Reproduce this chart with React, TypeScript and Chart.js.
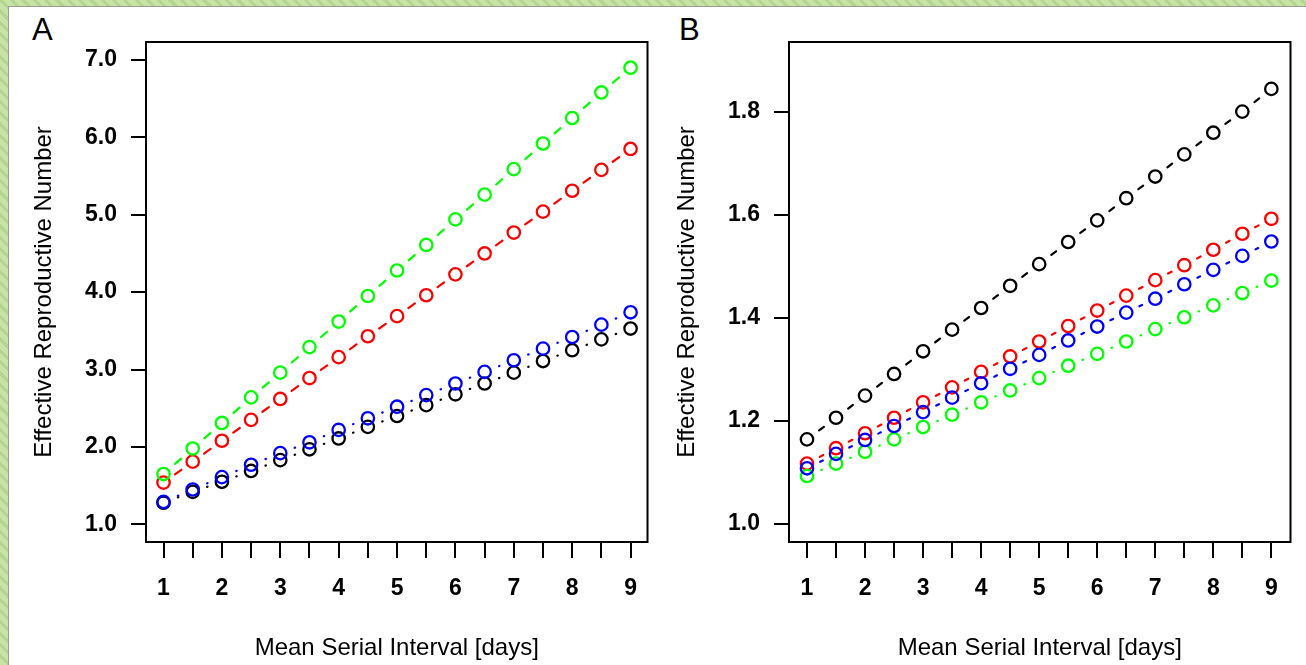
import React, { useEffect, useRef } from 'react';
import { Chart, registerables } from 'chart.js';

Chart.register(...registerables);

// ---------------- data ----------------
const serialInterval = [1, 1.5, 2, 2.5, 3, 3.5, 4, 4.5, 5, 5.5, 6, 6.5, 7, 7.5, 8, 8.5, 9];
const xTickLabels = ['1', '2', '3', '4', '5', '6', '7', '8', '9'];

// Panel A
const panelA_green = [1.65, 1.98, 2.31, 2.64, 2.96, 3.29, 3.62, 3.95, 4.28, 4.61, 4.94, 5.26, 5.59, 5.92, 6.25, 6.58, 6.90];
const panelA_red = [1.54, 1.81, 2.08, 2.35, 2.62, 2.89, 3.16, 3.43, 3.69, 3.96, 4.23, 4.50, 4.77, 5.04, 5.31, 5.58, 5.85];
const panelA_blue = [1.29, 1.45, 1.61, 1.77, 1.92, 2.06, 2.22, 2.37, 2.52, 2.67, 2.82, 2.97, 3.12, 3.27, 3.42, 3.58, 3.74];
const panelA_black = [1.28, 1.42, 1.55, 1.69, 1.83, 1.97, 2.11, 2.26, 2.40, 2.54, 2.68, 2.82, 2.96, 3.11, 3.25, 3.39, 3.53];
const panelA_yTicks = [1, 2, 3, 4, 5, 6, 7];

// Panel B
const panelB_black = [1.164, 1.206, 1.249, 1.291, 1.335, 1.377, 1.419, 1.462, 1.504, 1.547, 1.589, 1.632, 1.674, 1.717, 1.759, 1.800, 1.844];
const panelB_red = [1.117, 1.147, 1.176, 1.206, 1.236, 1.265, 1.295, 1.325, 1.354, 1.384, 1.414, 1.443, 1.473, 1.502, 1.532, 1.563, 1.592];
const panelB_blue = [1.108, 1.136, 1.163, 1.190, 1.217, 1.245, 1.273, 1.301, 1.328, 1.356, 1.383, 1.410, 1.437, 1.465, 1.493, 1.520, 1.548];
const panelB_green = [1.093, 1.117, 1.140, 1.164, 1.188, 1.212, 1.236, 1.259, 1.283, 1.307, 1.330, 1.354, 1.378, 1.401, 1.424, 1.448, 1.472];
const panelB_yTicks = [1.0, 1.2, 1.4, 1.6, 1.8];

const xTitle = 'Mean Serial Interval [days]';
const yTitle = 'Effective Reproductive Number';

// ---------------- styling ----------------
const FONT = '"Liberation Sans", Arial, Helvetica, sans-serif';

type Series = { name: string; values: number[]; color: string; dashLen: number };

const seriesA: Series[] = [
  { name: 'blue', values: panelA_blue, color: '#0000ff', dashLen: 0.5 },
  { name: 'green', values: panelA_green, color: '#00ff00', dashLen: 8 },
  { name: 'red', values: panelA_red, color: '#ff0000', dashLen: 8 },
  { name: 'black', values: panelA_black, color: '#000000', dashLen: 0.5 },
];

const seriesB: Series[] = [
  { name: 'blue', values: panelB_blue, color: '#0000ff', dashLen: 3 },
  { name: 'green', values: panelB_green, color: '#00ff00', dashLen: 0.5 },
  { name: 'red', values: panelB_red, color: '#ff0000', dashLen: 4 },
  { name: 'black', values: panelB_black, color: '#000000', dashLen: 6 },
];

const segLen = (ctx: any) => Math.hypot(ctx.p1.x - ctx.p0.x, ctx.p1.y - ctx.p0.y);

const boxPlugin = {
  id: 'rbox',
  afterDatasetsDraw(chart: any) {
    const { ctx, chartArea } = chart;
    ctx.save();
    ctx.strokeStyle = '#000';
    ctx.lineWidth = 2;
    ctx.strokeRect(chartArea.left, chartArea.top, chartArea.right - chartArea.left, chartArea.bottom - chartArea.top);
    ctx.restore();
  },
};

function makeConfig(
  series: Series[],
  xMin: number,
  xMax: number,
  yMin: number,
  yMax: number,
  yTicks: number[]
): any {
  return {
    type: 'line',
    data: {
      datasets: series.map((s) => ({
        label: s.name,
        data: s.values.map((v, i) => ({ x: serialInterval[i], y: v })),
        borderColor: s.color,
        backgroundColor: 'rgba(0,0,0,0)',
        borderWidth: 2.2,
        borderCapStyle: 'round',
        pointStyle: 'circle',
        pointRadius: 6.2,
        pointHoverRadius: 6.2,
        pointBorderWidth: 2.3,
        pointBorderColor: s.color,
        pointBackgroundColor: 'rgba(0,0,0,0)',
        fill: false,
        tension: 0,
        segment: {
          borderDash: (ctx: any) => {
            const L = segLen(ctx);
            return [s.dashLen, Math.max(L - s.dashLen, 0.1)];
          },
          borderDashOffset: (ctx: any) => -(segLen(ctx) - s.dashLen) / 2,
        },
      })),
    },
    options: {
      animation: false,
      responsive: false,
      events: [],
      layout: { padding: { left: 30, top: 42, right: 4, bottom: 2 } },
      plugins: {
        legend: { display: false },
        tooltip: { enabled: false },
        title: { display: false },
      },
      scales: {
        x: {
          type: 'linear',
          position: 'bottom',
          min: xMin,
          max: xMax,
          afterBuildTicks: (scale: any) => {
            scale.ticks = serialInterval.map((v) => ({ value: v }));
          },
          afterFit: (scale: any) => {
            scale.height = 121;
            scale.paddingLeft = 0;
            scale.paddingRight = 0;
          },
          grid: {
            display: true,
            drawOnChartArea: false,
            drawTicks: true,
            tickLength: 16,
            color: '#000',
            tickColor: '#000',
            lineWidth: 2,
            tickWidth: 2,
          },
          border: { display: false },
          ticks: {
            autoSkip: false,
            maxRotation: 0,
            minRotation: 0,
            padding: 17,
            color: '#000',
            font: { family: FONT, size: 23, weight: 'bold' },
            callback: (v: number) => {
              const idx = xTickLabels.indexOf(String(v));
              return Number.isInteger(v) && idx >= 0 ? xTickLabels[idx] : '';
            },
          },
          title: {
            display: true,
            text: xTitle,
            color: '#000',
            font: { family: FONT, size: 24 },
            padding: 0,
          },
        },
        y: {
          type: 'linear',
          position: 'left',
          min: yMin,
          max: yMax,
          afterBuildTicks: (scale: any) => {
            scale.ticks = yTicks.map((v) => ({ value: v }));
          },
          afterFit: (scale: any) => {
            scale.width = 116;
            scale.paddingTop = 0;
            scale.paddingBottom = 0;
          },
          grid: {
            display: true,
            drawOnChartArea: false,
            drawTicks: true,
            tickLength: 15,
            color: '#000',
            tickColor: '#000',
            lineWidth: 2,
            tickWidth: 2,
          },
          border: { display: false },
          ticks: {
            autoSkip: false,
            padding: 14,
            color: '#000',
            font: { family: FONT, size: 23, weight: 'bold' },
            callback: (v: number) => v.toFixed(1),
          },
          title: {
            display: true,
            text: yTitle,
            color: '#000',
            font: { family: FONT, size: 24 },
            padding: 0,
          },
        },
      },
    },
    plugins: [boxPlugin],
  };
}

export default function App() {
  const refA = useRef<HTMLCanvasElement | null>(null);
  const refB = useRef<HTMLCanvasElement | null>(null);

  useEffect(() => {
    const a = new Chart(
      refA.current as HTMLCanvasElement,
      makeConfig(seriesA, 0.7, 9.29, 0.772, 7.232, panelA_yTicks)
    );
    const b = new Chart(
      refB.current as HTMLCanvasElement,
      makeConfig(seriesB, 0.69, 9.33, 0.965, 1.935, panelB_yTicks)
    );
    return () => {
      a.destroy();
      b.destroy();
    };
  }, []);

  return (
    <div
      style={{
        position: 'absolute',
        left: 0,
        top: 0,
        width: 1306,
        height: 665,
        overflow: 'hidden',
        background:
          'repeating-linear-gradient(45deg, #c8e3a6 0px, #c8e3a6 5px, #b3d58f 5px, #b3d58f 8px)',
      }}
    >
      <div
        style={{
          position: 'absolute',
          left: 8,
          top: 6,
          width: 1306 - 8,
          height: 665 - 6,
          background: '#ffffff',
          borderLeft: '1px solid #9a9a9a',
          borderTop: '1px solid #9a9a9a',
          boxSizing: 'border-box',
        }}
      />
      <div
        style={{
          position: 'absolute',
          left: 32,
          top: 14,
          fontFamily: FONT,
          fontSize: 31,
          lineHeight: '31px',
          color: '#000',
        }}
      >
        A
      </div>
      <div
        style={{
          position: 'absolute',
          left: 679,
          top: 14,
          fontFamily: FONT,
          fontSize: 31,
          lineHeight: '31px',
          color: '#000',
        }}
      >
        B
      </div>
      <canvas
        ref={refA}
        width={656}
        height={665}
        style={{ position: 'absolute', left: 0, top: 0, width: 656, height: 665 }}
      />
      <canvas
        ref={refB}
        width={656}
        height={665}
        style={{ position: 'absolute', left: 643, top: 0, width: 656, height: 665 }}
      />
    </div>
  );
}
